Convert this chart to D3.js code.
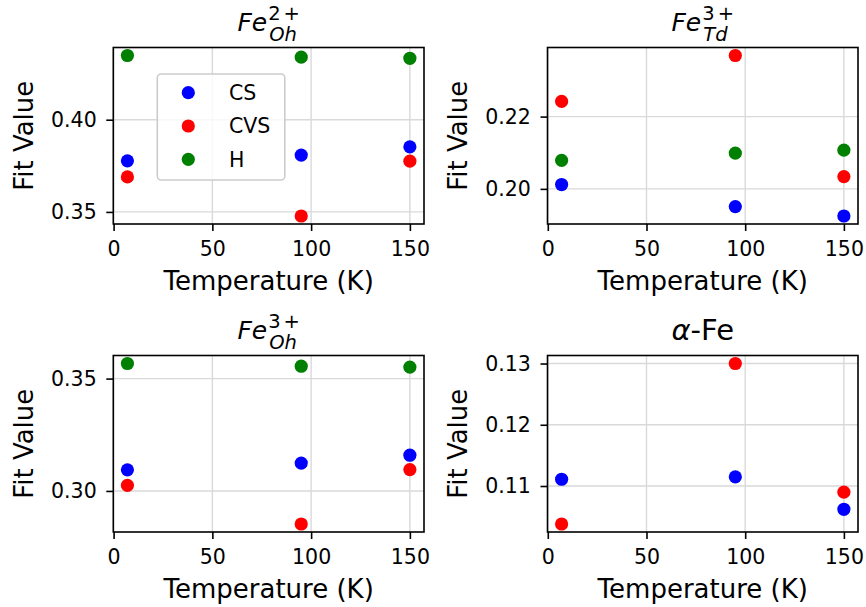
<!DOCTYPE html>
<html>
<head>
<meta charset="utf-8">
<script src="https://cdn.jsdelivr.net/npm/d3@7"></script>
<style>
  body { margin: 0; background: #fff; }
  svg { font-family: "DejaVu Sans", sans-serif; }
</style>
</head>
<body>
<div id="chart"></div>
<script>
const width = 866;
const height = 607;

// temperatures (K) and series
const temps = [7, 95, 150];
const seriesNames = ['CS', 'CVS', 'H'];
const seriesColors = ['#0000ff', '#ff0000', '#008000'];
const xTicks = [0, 50, 100, 150];

// fit values, one row per series: CS, CVS, H
const fe2Oh = [
  [0.3777, 0.3808, 0.3853],
  [0.3690, 0.3478, 0.3775],
  [0.4348, 0.4339, 0.4333]
];
const fe3Td = [
  [0.2012, 0.1951, 0.1925],
  [0.2242, 0.2369, 0.2034],
  [0.2079, 0.2099, 0.2107]
];
const fe3Oh = [
  [0.3094, 0.3124, 0.3159],
  [0.3025, 0.2853, 0.3095],
  [0.3567, 0.3555, 0.3551]
];
const alphaFe = [
  [0.1111, 0.1115, 0.1062],
  [0.1038, 0.1300, 0.1090]
];

const fe2OhTicks = [0.35, 0.40];
const fe3TdTicks = [0.20, 0.22];
const fe3OhTicks = [0.30, 0.35];
const alphaFeTicks = [0.11, 0.12, 0.13];

const panels = [
  {sup: ['2', '+'], sub: 'Oh', data: fe2Oh, ticks: fe2OhTicks, x0: 113.3, x1: 424, y0: 47.5, y1: 224},
  {sup: ['3', '+'], sub: 'Td', data: fe3Td, ticks: fe3TdTicks, x0: 547.5, x1: 858, y0: 47.5, y1: 224},
  {sup: ['3', '+'], sub: 'Oh', data: fe3Oh, ticks: fe3OhTicks, x0: 113.3, x1: 424, y0: 355.5, y1: 532},
  {alpha: true, data: alphaFe, ticks: alphaFeTicks, x0: 547.5, x1: 858, y0: 355.5, y1: 532}
];

const svg = d3.select('#chart').append('svg')
    .attr('width', width)
    .attr('height', height);

function pad(ext, frac) {
  const r = ext[1] - ext[0];
  return [ext[0] - r * frac, ext[1] + r * frac];
}

panels.forEach((p, pi) => {
  const x = d3.scaleLinear().domain(pad(d3.extent(temps), 0.05)).range([p.x0, p.x1]);
  const y = d3.scaleLinear().domain(pad(d3.extent(p.data.flat()), 0.05)).range([p.y1, p.y0]);
  const g = svg.append('g');

  // grid
  g.selectAll('line.gx').data(xTicks).join('line')
      .attr('x1', d => x(d)).attr('x2', d => x(d))
      .attr('y1', p.y0).attr('y2', p.y1)
      .attr('stroke', '#d9d9d9').attr('stroke-width', 1.4);
  g.selectAll('line.gy').data(p.ticks).join('line')
      .attr('x1', p.x0).attr('x2', p.x1)
      .attr('y1', d => y(d)).attr('y2', d => y(d))
      .attr('stroke', '#d9d9d9').attr('stroke-width', 1.4);

  // points
  p.data.forEach((vals, si) => {
    g.selectAll(null).data(vals).join('circle')
        .attr('cx', (d, i) => x(temps[i]))
        .attr('cy', d => y(d))
        .attr('r', 6.6)
        .attr('fill', seriesColors[si]);
  });

  // axes
  const xAxis = g.append('g')
      .attr('transform', `translate(0,${p.y1})`)
      .call(d3.axisBottom(x).tickValues(xTicks).tickFormat(d3.format('d')).tickSize(7).tickPadding(10.7));
  const yAxis = g.append('g')
      .attr('transform', `translate(${p.x0},0)`)
      .call(d3.axisLeft(y).tickValues(p.ticks).tickFormat(d3.format('.2f')).tickSize(7).tickPadding(9.6));
  [xAxis, yAxis].forEach(a => {
    a.select('.domain').remove();
    a.selectAll('line').attr('stroke', '#000').attr('stroke-width', 1.6);
    a.selectAll('text').attr('font-size', 20.5).attr('font-family', 'DejaVu Sans').attr('fill', '#000');
  });

  g.append('rect')
      .attr('x', p.x0).attr('y', p.y0)
      .attr('width', p.x1 - p.x0).attr('height', p.y1 - p.y0)
      .attr('fill', 'none').attr('stroke', '#000').attr('stroke-width', 1.6);

  // labels
  const cx = (p.x0 + p.x1) / 2;
  g.append('text')
      .attr('x', cx).attr('y', p.y1 + 66)
      .attr('text-anchor', 'middle').attr('font-size', 26)
      .text('Temperature (K)');
  g.append('text')
      .attr('transform', `translate(${p.x0 - 80.5},${(p.y0 + p.y1) / 2}) rotate(-90)`)
      .attr('text-anchor', 'middle').attr('font-size', 26)
      .text('Fit Value');

  // title
  if (p.alpha) {
    const t = g.append('text')
        .attr('x', cx).attr('y', p.y0 - 15.5)
        .attr('text-anchor', 'middle').attr('font-size', 29);
    t.append('tspan').attr('font-style', 'italic').text('α');
    t.append('tspan').text('-Fe');
  } else {
    const tg = g.append('g');
    const base = p.y0 - 17;
    const fe = tg.append('text').attr('x', 0).attr('y', base)
        .attr('font-size', 25).attr('font-style', 'italic').text('Fe');
    const fw = fe.node().getComputedTextLength() + 1;
    const sup = tg.append('text').attr('x', fw).attr('y', base - 11)
        .attr('font-size', 19.5);
    sup.append('tspan').text(p.sup[0]);
    sup.append('tspan').attr('dx', 3).text(p.sup[1]);
    const sub = tg.append('text').attr('x', fw + 1).attr('y', base + 10)
        .attr('font-size', 19.5).attr('font-style', 'italic').text(p.sub);
    const tw = fw + Math.max(sup.node().getComputedTextLength() + 3, sub.node().getComputedTextLength() + 1);
    tg.attr('transform', `translate(${cx - tw / 2},0)`);
  }

  // legend on first panel
  if (pi === 0) {
    const lg = g.append('g');
    lg.append('rect')
        .attr('x', 157.3).attr('y', 74)
        .attr('width', 127.5).attr('height', 106)
        .attr('rx', 4)
        .attr('fill', '#fff').attr('fill-opacity', 0.8)
        .attr('stroke', '#cccccc').attr('stroke-width', 1.6);
    seriesNames.forEach((name, i) => {
      const ly = 92.7 + i * 33.3;
      lg.append('circle').attr('cx', 188.3).attr('cy', ly).attr('r', 6.6).attr('fill', seriesColors[i]);
      lg.append('text').attr('x', 229).attr('y', ly + 7.4).attr('font-size', 20.5).text(name);
    });
  }
});
</script>
</body>
</html>
